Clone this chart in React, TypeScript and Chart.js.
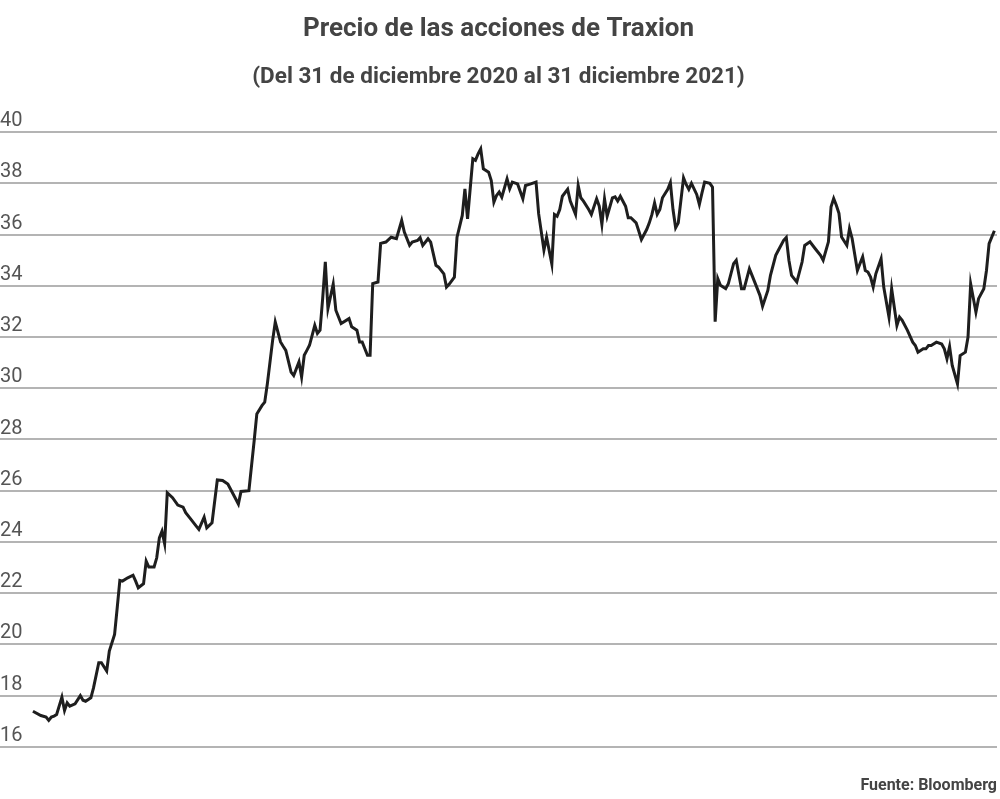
import { useEffect, useRef } from "react";
import { Chart, registerables } from "chart.js";

Chart.register(...registerables);

// Días transcurridos desde el 31 de diciembre de 2020
const days = [
  0, 3, 5, 6, 7, 8, 9, 11, 12, 13, 14, 16, 18, 19, 20, 22, 23, 25, 26, 28,
  29, 31, 32, 33, 34, 36, 38, 39, 40, 42, 43, 44, 46, 47, 48, 49, 50, 51, 53, 55,
  57, 58, 60, 62, 63, 65, 66, 68, 70, 72, 74, 76, 78, 79, 82, 84, 85, 87, 88, 89,
  91, 92, 94, 95, 96, 98, 99, 101, 102, 103, 104, 105, 107, 108, 109, 110, 111, 112, 114, 115,
  117, 120, 121, 123, 124, 125, 127, 128, 129, 131, 132, 134, 136, 138, 140, 141, 143, 144, 146, 147,
  148, 150, 151, 153, 154, 156, 157, 158, 160, 161, 163, 164, 165, 167, 168, 169, 170, 171, 173, 174,
  175, 176, 177, 178, 180, 181, 182, 184, 186, 187, 189, 191, 192, 194, 195, 197, 198, 199, 200, 201,
  203, 204, 206, 207, 208, 209, 211, 212, 214, 215, 216, 217, 218, 220, 221, 222, 223, 225, 226, 227,
  229, 230, 231, 233, 234, 235, 236, 237, 238, 239, 241, 242, 243, 244, 245, 247, 248, 249, 250, 252,
  253, 254, 255, 257, 258, 259, 260, 261, 263, 264, 266, 267, 269, 270, 272, 273, 275, 276, 277, 279,
  280, 282, 283, 285, 286, 287, 288, 290, 292, 293, 295, 297, 299, 300, 302, 303, 304, 305, 306, 307,
  309, 310, 311, 313, 314, 315, 316, 317, 318, 319, 320, 322, 323, 325, 326, 328, 329, 330, 332, 334,
  335, 336, 338, 339, 340, 341, 343, 345, 346, 347, 348, 349, 351, 352, 354, 355, 356, 358, 359, 361,
  362, 363, 365,
];

// Precio de cierre (pesos)
const prices = [
  17.39, 17.22, 17.16, 17.03, 17.16, 17.2, 17.26, 17.94, 17.42, 17.72, 17.59, 17.68, 18.0, 17.82, 17.78, 17.91, 18.3, 19.28, 19.28, 18.96,
  19.74, 20.39, 21.43, 22.5, 22.47, 22.6, 22.7, 22.47, 22.21, 22.37, 23.25, 23.02, 23.02, 23.38, 24.16, 24.42, 23.93, 25.92, 25.73, 25.44,
  25.36, 25.14, 24.88, 24.62, 24.49, 24.97, 24.55, 24.75, 26.42, 26.4, 26.26, 25.87, 25.48, 25.97, 26.0, 27.96, 29.0, 29.33, 29.46, 30.18,
  31.87, 32.59, 31.81, 31.64, 31.48, 30.63, 30.5, 31.03, 30.44, 31.29, 31.48, 31.68, 32.46, 32.14, 32.27, 33.51, 34.94, 33.11, 34.07, 33.05,
  32.53, 32.72, 32.4, 32.27, 31.81, 31.81, 31.29, 31.29, 34.09, 34.15, 35.66, 35.71, 35.9, 35.84, 36.55, 36.1, 35.58, 35.71, 35.77, 35.88,
  35.58, 35.84, 35.71, 34.8, 34.73, 34.47, 33.95, 34.06, 34.34, 35.9, 36.75, 37.79, 36.62, 38.96, 38.9, 39.15, 39.35, 38.57, 38.44, 38.11,
  37.27, 37.53, 37.66, 37.46, 38.18, 37.79, 38.05, 37.98, 37.4, 37.92, 37.98, 38.05, 36.81, 35.4, 35.9, 34.85, 36.79, 36.72, 36.98, 37.5,
  37.77, 37.31, 36.79, 37.92, 37.44, 37.31, 36.98, 36.79, 37.4, 37.11, 36.4, 37.4, 36.72, 37.44, 37.48, 37.31, 37.5, 37.11, 36.66, 36.66,
  36.46, 36.14, 35.81, 36.2, 36.46, 36.79, 37.24, 36.79, 36.98, 37.44, 37.77, 38.03, 36.98, 36.27, 36.46, 38.22, 37.96, 37.77, 38.0, 37.57,
  37.18, 37.63, 38.05, 38.0, 37.85, 32.6, 34.28, 34.02, 33.89, 34.08, 34.87, 35.0, 33.89, 33.89, 34.67, 34.41, 33.89, 33.63, 33.2, 33.82,
  34.41, 35.19, 35.39, 35.78, 35.89, 35.0, 34.41, 34.15, 34.93, 35.58, 35.72, 35.45, 35.19, 35.0, 35.72, 37.09, 37.41, 37.15, 36.83, 35.91,
  35.58, 36.24, 35.85, 34.6, 34.87, 35.13, 34.6, 34.54, 34.34, 33.95, 34.47, 35.06, 33.95, 32.78, 33.89, 32.45, 32.78, 32.65, 32.26, 31.8,
  31.67, 31.41, 31.54, 31.54, 31.67, 31.67, 31.8, 31.73, 31.54, 31.15, 31.63, 30.89, 30.17, 31.28, 31.41, 32.0, 34.08, 32.97, 33.5, 33.89,
  34.6, 35.65, 36.15,
];

const yTicks = [16, 18, 20, 22, 24, 26, 28, 30, 32, 34, 36, 38, 40];

const FONT = "Roboto, 'Noto Sans', sans-serif";

export default function App() {
  const canvasRef = useRef<HTMLCanvasElement>(null);
  const chartRef = useRef<Chart | null>(null);

  useEffect(() => {
    document.body.style.margin = "0";
    if (!canvasRef.current) return;
    if (chartRef.current) chartRef.current.destroy();

    chartRef.current = new Chart(canvasRef.current, {
      type: "line",
      data: {
        datasets: [
          {
            label: "Traxion",
            data: days.map((d, i) => ({ x: d, y: prices[i] })),
            borderColor: "#1e1e1e",
            borderWidth: 3,
            pointRadius: 0,
            tension: 0,
            fill: false,
          },
        ],
      },
      options: {
        animation: false,
        responsive: true,
        maintainAspectRatio: false,
        layout: { padding: { left: 0, right: 3, top: 0, bottom: 0 } },
        plugins: {
          legend: { display: false },
          tooltip: { enabled: false },
          title: {
            display: true,
            text: "Precio de las acciones de Traxion",
            color: "#444444",
            font: { family: FONT, size: 26, weight: "bold" },
            padding: { top: 14, bottom: 14 },
          },
          subtitle: {
            display: true,
            text: "(Del 31 de diciembre 2020 al 31 diciembre 2021)",
            color: "#444444",
            font: { family: FONT, size: 22.5, weight: "bold" },
            padding: { top: 5, bottom: 41 },
          },
        },
        scales: {
          x: {
            type: "linear",
            min: -12.5,
            max: 366,
            grid: { display: false },
            border: { display: false },
            ticks: { display: false },
            title: {
              display: true,
              text: "Fuente: Bloomberg",
              align: "end",
              color: "#444444",
              font: { family: FONT, size: 16, weight: "bold" },
              padding: { top: 22, bottom: 3 },
            },
          },
          y: {
            min: 16,
            max: 40,
            afterBuildTicks: (axis) => {
              axis.ticks = yTicks.map((v) => ({ value: v }));
            },
            grid: {
              color: "#b4b4b4",
              lineWidth: 2,
              drawTicks: false,
              tickLength: 0,
            },
            border: { display: false },
            ticks: {
              mirror: true,
              padding: 0,
              labelOffset: -11,
              color: "#555555",
              font: { family: FONT, size: 20 },
            },
          },
        },
      },
    });

    return () => {
      if (chartRef.current) {
        chartRef.current.destroy();
        chartRef.current = null;
      }
    };
  }, []);

  return (
    <div style={{ width: 1000, height: 799, position: "relative" }}>
      <canvas ref={canvasRef} />
    </div>
  );
}
